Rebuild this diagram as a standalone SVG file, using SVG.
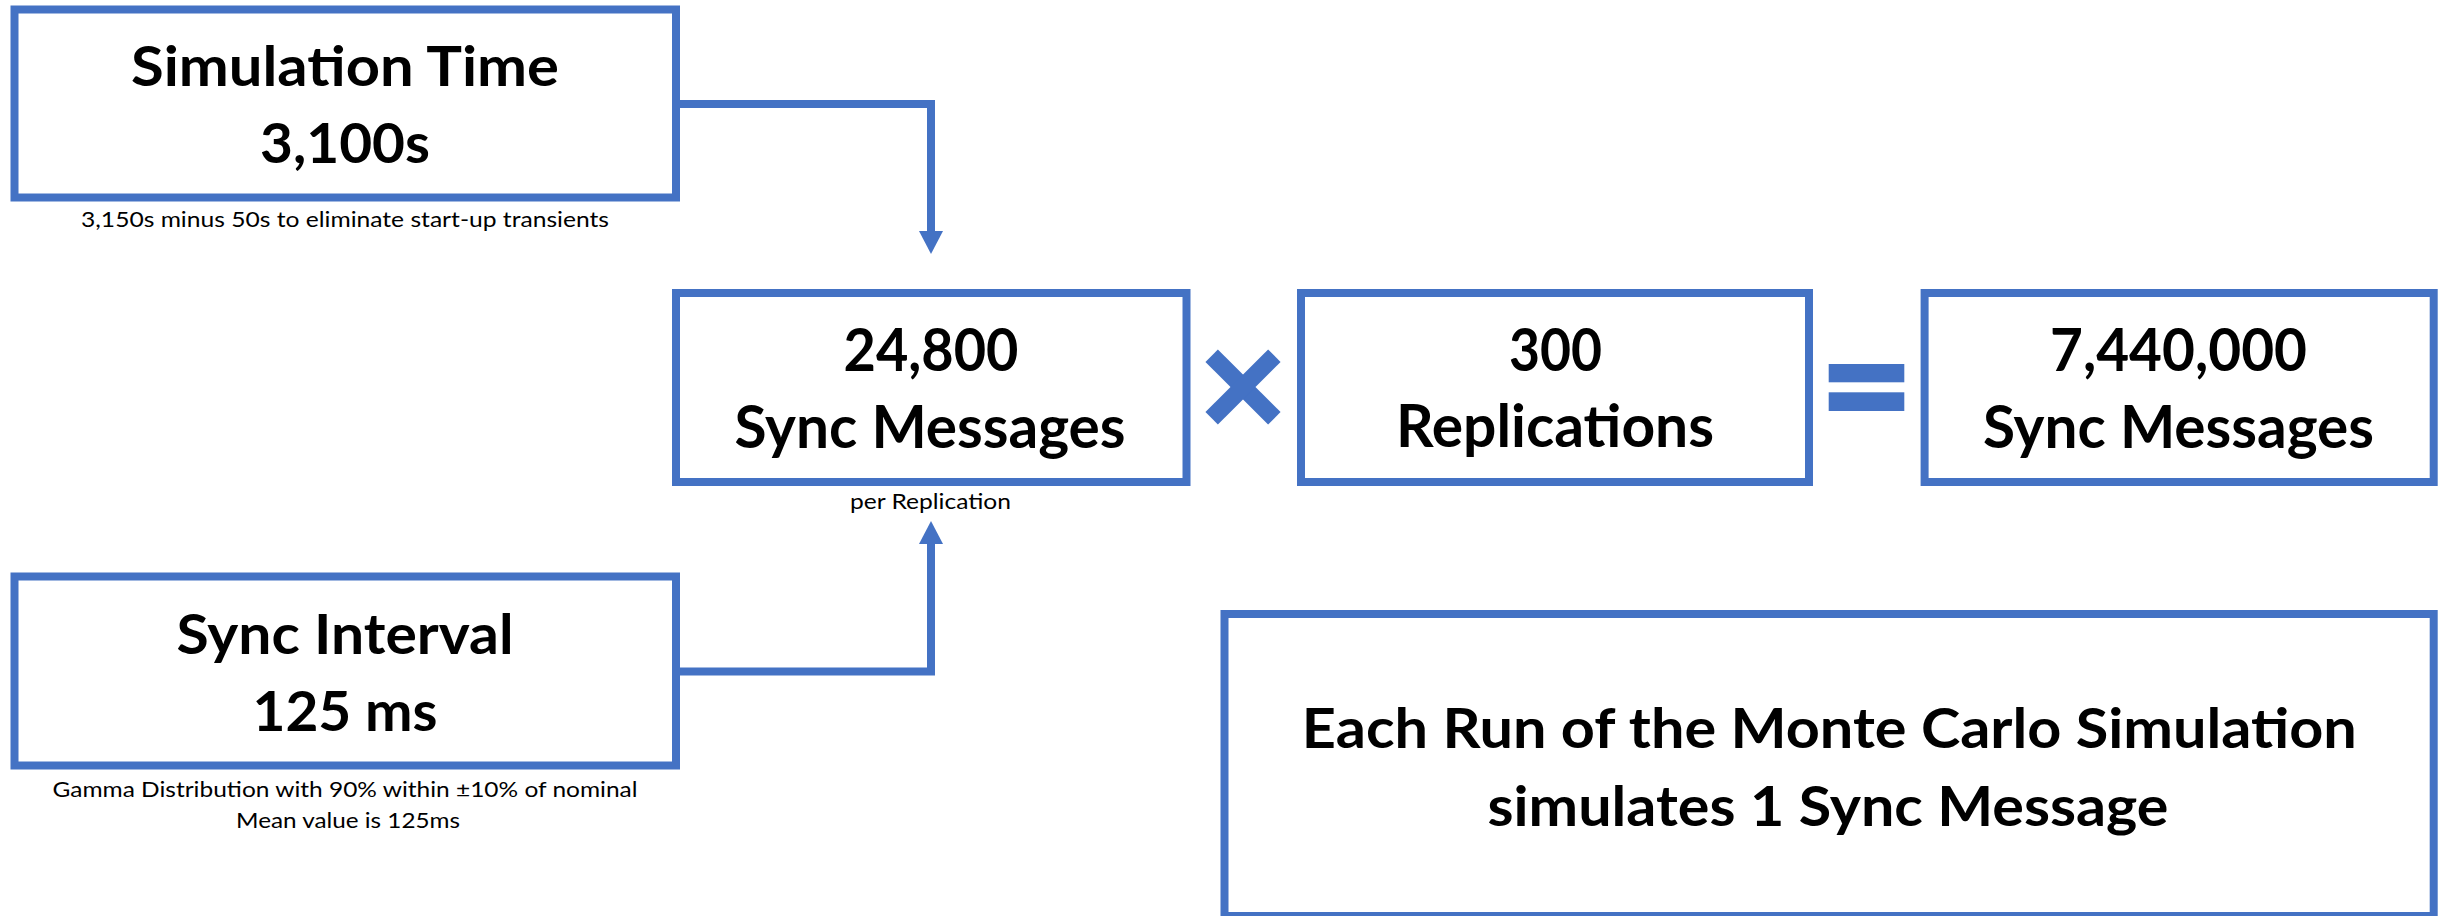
<svg xmlns="http://www.w3.org/2000/svg" width="2445" height="916" viewBox="0 0 2445 916">
  <style>
    .box { fill: #ffffff; stroke: #4472C4; stroke-width: 8; }
    .big { font-family: Lato, "Open Sans", "Liberation Sans", sans-serif; font-weight: 700; fill: #000000; text-anchor: middle; }
    .t54 { font-size: 56px; }
    .t58 { font-size: 59px; }
    .small { font-family: Lato, "Open Sans", "Liberation Sans", sans-serif; font-weight: 400; fill: #000000; text-anchor: middle; font-size: 21px; }
    .link { fill: none; stroke: #4472C4; stroke-width: 8; }
    .op { fill: #4472C4; }
  </style>
  <defs>
    <marker id="arrow" markerUnits="userSpaceOnUse" markerWidth="24" markerHeight="26" refX="0" refY="12" orient="auto" viewBox="0 0 24 24">
      <path d="M0,0 L23,12 L0,24 Z" fill="#4472C4"/>
    </marker>
  </defs>

  <rect width="2445" height="916" fill="#ffffff"/>

  <!-- connectors -->
  <g id="connectors">
    <path class="link" d="M676,104 H931 V231" marker-end="url(#arrow)"/>
    <path class="link" d="M676,671.5 H931 V544" marker-end="url(#arrow)"/>
  </g>

  <!-- input: simulation time -->
  <g id="simulation-time">
    <rect class="box" x="14.5" y="9.5" width="661.5" height="188"/>
    <text class="big t54" x="345" y="86" textLength="428" lengthAdjust="spacingAndGlyphs">Simulation Time</text>
    <text class="big t54" x="345" y="163" textLength="170" lengthAdjust="spacingAndGlyphs">3,100s</text>
    <text class="small" x="345" y="227" font-size="20" textLength="528" lengthAdjust="spacingAndGlyphs">3,150s minus 50s to eliminate start-up transients</text>
  </g>

  <!-- input: sync interval -->
  <g id="sync-interval">
    <rect class="box" x="14.5" y="576.5" width="661.5" height="189"/>
    <text class="big t54" x="345" y="654" textLength="337" lengthAdjust="spacingAndGlyphs">Sync Interval</text>
    <text class="big t54" x="345" y="731" textLength="185" lengthAdjust="spacingAndGlyphs">125 ms</text>
    <text class="small" x="345" y="797" textLength="585" lengthAdjust="spacingAndGlyphs">Gamma Distribution with 90% within ±10% of nominal</text>
    <text class="small" x="348" y="828" textLength="224" lengthAdjust="spacingAndGlyphs">Mean value is 125ms</text>
  </g>

  <!-- messages per replication -->
  <g id="per-replication">
    <rect class="box" x="676" y="293" width="510.5" height="189"/>
    <text class="big t58" x="931" y="371" textLength="175" lengthAdjust="spacingAndGlyphs">24,800</text>
    <text class="big t58" x="930" y="448" textLength="391" lengthAdjust="spacingAndGlyphs">Sync Messages</text>
    <text class="small" x="930.5" y="509" textLength="161" lengthAdjust="spacingAndGlyphs">per Replication</text>
  </g>

  <!-- multiply sign -->
  <g id="times" class="op">
    <rect x="1198.7" y="378.2" width="88.6" height="17.6" transform="rotate(45 1243 387)"/>
    <rect x="1198.7" y="378.2" width="88.6" height="17.6" transform="rotate(-45 1243 387)"/>
  </g>

  <!-- replications -->
  <g id="replications">
    <rect class="box" x="1301" y="293" width="508" height="189"/>
    <text class="big t58" x="1555.5" y="371" textLength="93" lengthAdjust="spacingAndGlyphs">300</text>
    <text class="big t58" x="1555" y="447" textLength="318" lengthAdjust="spacingAndGlyphs">Replications</text>
  </g>

  <!-- equals sign -->
  <g id="equals" class="op">
    <rect x="1828.7" y="364" width="75.6" height="18.3"/>
    <rect x="1828.7" y="392.3" width="75.6" height="18.7"/>
  </g>

  <!-- total -->
  <g id="total">
    <rect class="box" x="1924.6" y="293" width="509.1" height="189"/>
    <text class="big t58" x="2178.5" y="371" textLength="257" lengthAdjust="spacingAndGlyphs">7,440,000</text>
    <text class="big t58" x="2178.5" y="448" textLength="391" lengthAdjust="spacingAndGlyphs">Sync Messages</text>
  </g>

  <!-- note -->
  <g id="note">
    <rect class="box" x="1224.5" y="614" width="1209.2" height="302"/>
    <text class="big t54" x="1829.3" y="748" textLength="1055" lengthAdjust="spacingAndGlyphs">Each Run of the Monte Carlo Simulation</text>
    <text class="big t54" x="1828" y="826" textLength="681" lengthAdjust="spacingAndGlyphs">simulates 1 Sync Message</text>
  </g>
</svg>
